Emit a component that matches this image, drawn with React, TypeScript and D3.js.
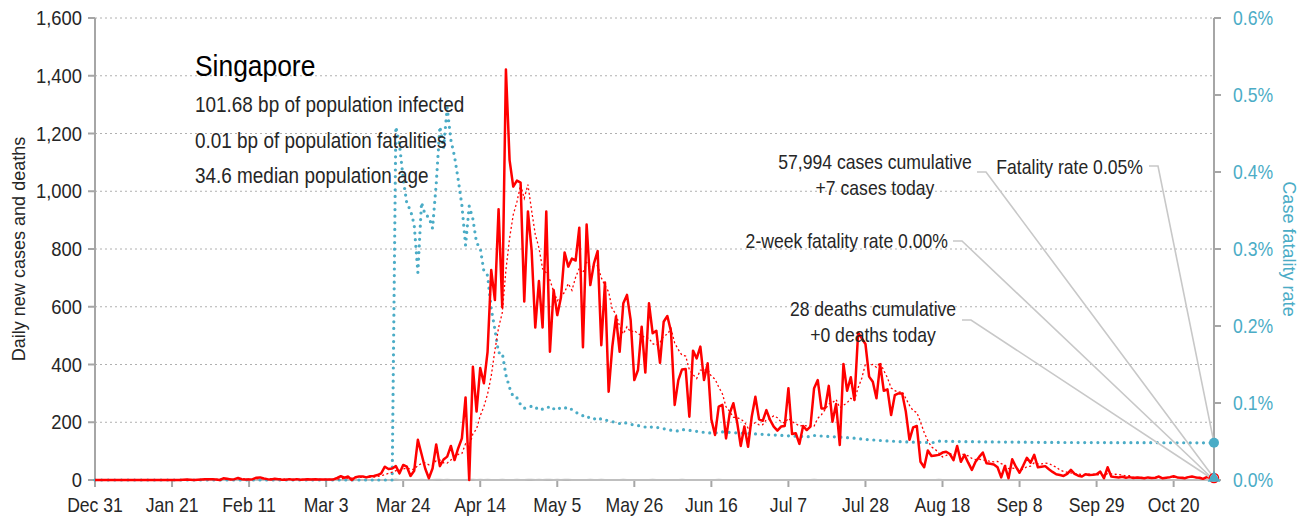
import React from "react";
import * as d3 from "d3";

// ---------- data ----------
const startDate = new Date(2019, 11, 31);
const endDate = new Date(2020, 9, 31);

const cases: number[] = [
  0,0,0,0,0,0,0,0,0,0,0,0,0,0,0,0,0,0,0,0,0,0,0,0,
  1,2,1,0,1,2,3,3,3,
  2,0,6,4,2,3,7,3,2,2,3,8,9,5,3,2,4,3,1,1,3,1,3,1,2,3,2,3,2,
  2,2,2,2,7,13,8,12,0,10,12,12,9,13,14,17,23,
  46,38,40,48,23,52,46,14,32,139,
  90,40,6,40,123,48,71,81,118,69,110,144,286,
  0,392,237,388,335,444,727,623,938,598,1422,
  1108,1016,1037,1030,618,930,797,528,689,528,930,444,658,571,632,
  788,739,767,760,874,460,885,675,750,793,467,684,306,462,566,444,612,641,554,346,381,531,372,612,
  508,517,406,548,568,514,260,346,383,384,219,448,421,462,346,404,210,156,254,260,144,231,266,202,118,
  185,115,219,288,210,205,242,208,185,171,185,187,318,159,162,125,187,173,185,318,346,248,248,326,
  202,263,121,402,309,356,277,510,491,471,358,340,283,401,309,314,225,294,300,300,237,139,182,187,63,44,102,83,
  85,87,95,98,90,69,118,63,87,60,35,63,80,95,58,56,54,44,9,48,6,72,46,25,50,77,60,87,44,46,48,37,28,20,17,14,21,35,21,15,12,20,17,18,20,29,6,44,12,
  10,9,11,8,10,7,9,8,6,9,7,8,12,6,8,10,13,9,8,6,10,12,9,8,4,10,8,7,
];

const deathDays: number[] = [82,89,93,94,96,102,103,105,107,111,115,118,119,121,123,124,126,128,129,135,138,144,152,160,170,196,230];
const deathCounts: number[] = [2,1,1,1,1,1,1,1,1,1,1,1,1,1,1,1,1,1,1,1,1,1,1,1,1,1,1];

const leftTicks: number[] = [200,400,600,800,1000,1200,1400,1600];
const rightTicks: number[] = [0,0.1,0.2,0.3,0.4,0.5,0.6];
const xTickStepDays = 21;

const titleText = "Singapore";
const infoLines: string[] = [
  "101.68 bp of population infected",
  "0.01 bp of population fatalities",
  "34.6 median population age",
];
const casesNote: string[] = ["57,994 cases cumulative", "+7 cases today"];
const deathsNote: string[] = ["28 deaths cumulative", "+0 deaths today"];
const twoWeekNote = "2-week fatality rate 0.00%";
const cfrNote = "Fatality rate 0.05%";
const twoWeekRate = 0;

// ---------- layout ----------
const W = 1307;
const H = 520;
const PL = 95, PR = 1214, PT = 18, PB = 480;
const FONT = "'Liberation Sans', Arial, sans-serif";
const BLUE = "#4bacc6";
const RED = "#ff0000";
const AXIS = "#a6a6a6";
const TXT = "#262626";
const SX = 0.88;

type TProps = { x: number; y: number; size: number; anchor?: string; fill?: string; sx?: number; dy?: string; children: React.ReactNode };
function T({ x, y, size, anchor = "start", fill = TXT, sx = SX, dy, children }: TProps) {
  return (
    <text transform={`translate(${x},${y}) scale(${sx},1)`} fontSize={size} textAnchor={anchor} fill={fill} dy={dy}>
      {children}
    </text>
  );
}

export default function App() {
  const n = d3.timeDay.count(startDate, endDate) + 1;
  const dates = d3.range(n).map((i) => d3.timeDay.offset(startDate, i));
  const caseVals = d3.range(n).map((i) => cases[i] ?? 0);
  const deaths = d3.range(n).map(() => 0);
  deathDays.forEach((d, k) => { if (d < n) deaths[d] += deathCounts[k]; });

  const avg = caseVals.map((_, i) => i < 6 ? null : d3.mean(caseVals.slice(i - 6, i + 1)) as number);
  let cc = 0, cd = 0;
  const cfr = caseVals.map((v, i) => { cc += v; cd += deaths[i]; return cc > 0 ? (cd / cc) * 100 : 0; });

  const x = d3.scaleTime().domain([startDate, endDate]).range([PL, PR]);
  const y = d3.scaleLinear().domain([0, 1600]).range([PB, PT]);
  const y2 = d3.scaleLinear().domain([0, 0.6]).range([PB, PT]);

  const xTicks = d3.timeDay.every(1)!.range(startDate, d3.timeDay.offset(endDate, 1)).filter((_, i) => i % xTickStepDays === 0);
  const fmt = d3.timeFormat("%b %-d");

  const line = d3.line<number>().x((_, i) => x(dates[i])).y((v) => y(v));
  const avgLine = d3.line<number | null>().defined((v) => v != null).x((_, i) => x(dates[i])).y((v) => y(v as number));
  const cfrLine = d3.line<number>().x((_, i) => x(dates[i])).y((v) => y2(v));

  const last = n - 1;
  const lx = x(dates[last]);
  const lastCaseY = y(caseVals[last]);
  const cfrY = y2(cfr[last]);
  const twoWeekY = y2(twoWeekRate);
  const lastDeathY = y(deaths[last]);

  const leader = (tx: number, ty: number, ex: number, ey: number) =>
    `M${tx},${ty}H${tx + 9}L${ex},${ey}`;

  return (
    <svg width={W} height={H} style={{ position: "absolute", left: 0, top: 0, background: "#fff" }} fontFamily={FONT}>
      {/* gridlines */}
      {leftTicks.map((t) => (
        <line key={t} x1={PL} x2={PR} y1={y(t)} y2={y(t)} stroke="#b0b0b0" strokeWidth={1} strokeDasharray="2,3" />
      ))}
      {/* axes */}
      <line x1={PL} x2={PL} y1={PT} y2={PB} stroke={AXIS} strokeWidth={2} />
      <line x1={PR} x2={PR} y1={PT} y2={PB} stroke={AXIS} strokeWidth={2} />
      <line x1={PL} x2={PR} y1={PB} y2={PB} stroke={AXIS} strokeWidth={2} />
      {[0, ...leftTicks].map((t) => (
        <g key={"l" + t}>
          <line x1={PL - 7} x2={PL} y1={y(t)} y2={y(t)} stroke={AXIS} strokeWidth={2} />
          <T x={82} y={y(t)} dy="0.36em" anchor="end" size={20} sx={0.92}>{d3.format(",")(t)}</T>
        </g>
      ))}
      {rightTicks.map((t) => (
        <g key={"r" + t}>
          <line x1={PR} x2={PR + 7} y1={y2(t)} y2={y2(t)} stroke={AXIS} strokeWidth={2} />
          <T x={1233} y={y2(t)} dy="0.36em" size={20} fill={BLUE}>{t.toFixed(1) + "%"}</T>
        </g>
      ))}
      {xTicks.map((t) => (
        <g key={"x" + t.getTime()}>
          <line x1={x(t)} x2={x(t)} y1={PB} y2={PB + 7} stroke={AXIS} strokeWidth={2} />
          <T x={x(t)} y={512} anchor="middle" size={20}>{fmt(t)}</T>
        </g>
      ))}
      <text transform={`translate(25,${(PT + PB) / 2}) rotate(-90) scale(0.95,1)`} textAnchor="middle" fontSize={19} fill={TXT}>Daily new cases and deaths</text>
      <text transform={`translate(1283,${(PT + PB) / 2}) rotate(90) scale(0.95,1)`} textAnchor="middle" fontSize={19} fill={BLUE}>Case fatality rate</text>

      {/* series */}
      <path d={line(deaths)!} fill="none" stroke="#bfbfbf" strokeWidth={2} />
      <path d={cfrLine(cfr)!} fill="none" stroke={BLUE} strokeWidth={3.2} strokeDasharray="0,6.6" strokeLinecap="round" />
      <path d={avgLine(avg)!} fill="none" stroke={RED} strokeWidth={1.3} strokeDasharray="2,2.5" />
      <path d={line(caseVals)!} fill="none" stroke={RED} strokeWidth={2.5} strokeLinejoin="round" />

      {/* leader lines */}
      <g stroke="#c8c8c8" strokeWidth={1.6} fill="none">
        <path d={leader(977, 172, lx, lastCaseY)} />
        <path d={leader(953, 241, lx, twoWeekY)} />
        <path d={leader(962, 320, lx, lastDeathY)} />
        <path d={leader(1149, 166, lx, cfrY)} />
      </g>

      {/* end markers */}
      <circle cx={lx} cy={cfrY} r={5} fill={BLUE} />
      <circle cx={lx} cy={lastCaseY} r={4.5} fill="none" stroke={RED} strokeWidth={1.5} />
      <path d={d3.symbol(d3.symbolTriangle, 70)()!} transform={`translate(${lx},${twoWeekY - 2})`} fill={BLUE} />

      {/* annotations */}
      <T x={195} y={76} size={30} fill="#000">{titleText}</T>
      {infoLines.map((s, i) => (
        <T key={s} x={195} y={112 + i * 35.5} size={21.5}>{s}</T>
      ))}
      {casesNote.map((s, i) => (
        <T key={s} x={875} y={169 + i * 26} anchor="middle" size={20}>{s}</T>
      ))}
      {deathsNote.map((s, i) => (
        <T key={s} x={873} y={316 + i * 26} anchor="middle" size={20}>{s}</T>
      ))}
      <T x={948} y={248} anchor="end" size={20}>{twoWeekNote}</T>
      <T x={1143} y={174} anchor="end" size={20}>{cfrNote}</T>
    </svg>
  );
}
